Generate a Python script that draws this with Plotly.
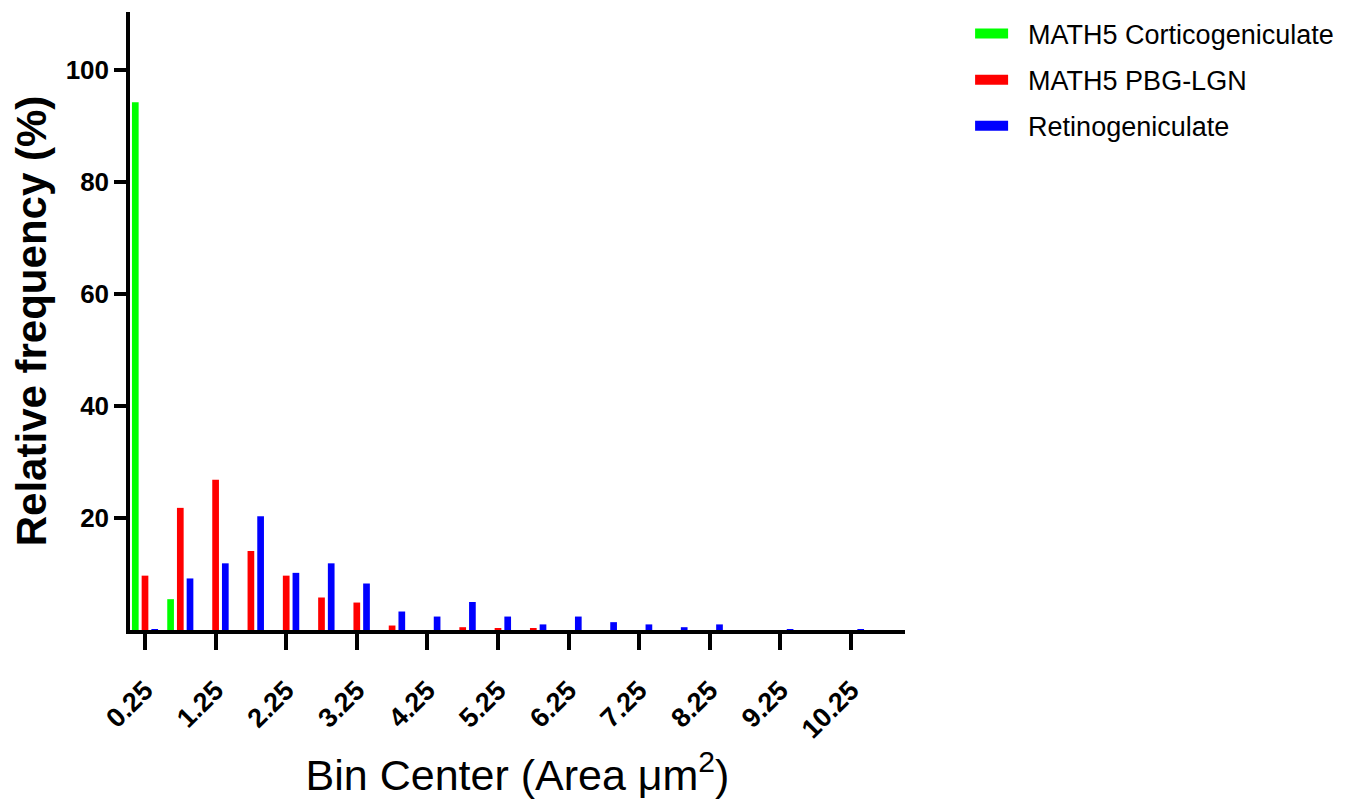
import plotly.graph_objects as go

bin_centers = [0.25, 0.75, 1.25, 1.75, 2.25, 2.75, 3.25, 3.75, 4.25, 4.75, 5.25,
               5.75, 6.25, 6.75, 7.25, 7.75, 8.25, 8.75, 9.25, 9.75, 10.25]

cortico = [94.2, 5.5, 0, 0, 0, 0, 0, 0, 0, 0, 0,
           0, 0, 0, 0, 0, 0, 0, 0, 0, 0]
pbg_lgn = [9.7, 21.8, 26.8, 14.1, 9.7, 5.8, 4.9, 0.8, 0, 0.5, 0.2,
           0.2, 0, 0, 0, 0, 0, 0, 0, 0, 0]
retino = [0.1, 9.2, 11.9, 20.3, 10.2, 11.9, 8.3, 3.3, 2.4, 5.0, 2.4,
          1.0, 2.4, 1.4, 1.0, 0.5, 1.0, 0, 0.1, 0, 0.1]

series_names = ["MATH5 Corticogeniculate", "MATH5 PBG-LGN", "Retinogeniculate"]
series_colors = ["#00FF00", "#FF0000", "#0000FF"]

x_tick_labels = ["0.25", "1.25", "2.25", "3.25", "4.25", "5.25",
                 "6.25", "7.25", "8.25", "9.25", "10.25"]
y_tick_vals = [20, 40, 60, 80, 100]

FONT = "Liberation Sans, Arial, sans-serif"

fig = go.Figure()
for name, vals, col in zip(series_names, [cortico, pbg_lgn, retino], series_colors):
    fig.add_trace(go.Bar(
        x=bin_centers, y=vals, name=name, legendgroup=name, showlegend=False,
        marker=dict(color=col, line=dict(width=0)),
    ))
# legend swatches (wide rectangles like the reference)
for name, col in zip(series_names, series_colors):
    fig.add_trace(go.Scatter(
        x=[None], y=[None], mode="lines", name="\u00a0\u00a0" + name, legendgroup=name,
        line=dict(color=col, width=18), hoverinfo="skip",
    ))

# the page body has an 8px margin, so the figure is sized/offset to compensate
fig.update_layout(
    width=1353, height=793,
    margin=dict(l=122, r=456, t=2, b=171),
    paper_bgcolor="white", plot_bgcolor="white",
    barmode="group", bargap=0.175, bargroupgap=0.31,
    font=dict(family=FONT, color="black"),
    showlegend=True,
    legend=dict(
        x=1.084, y=1.004, xanchor="left", yanchor="top",
        font=dict(size=27, family=FONT, color="black"),
        tracegroupgap=8, itemwidth=33,
        bgcolor="rgba(0,0,0,0)",
    ),
)

fig.update_xaxes(
    range=[0.0375, 11.015],
    tickmode="array",
    tickvals=[float(t) for t in x_tick_labels],
    ticktext=x_tick_labels,
    tickangle=-45,
    tickfont=dict(size=27, family=FONT, color="black", weight="bold"),
    ticks="outside", ticklen=16, tickwidth=3.5, tickcolor="black",
    ticklabelstandoff=14,
    showline=True, linewidth=3.5, linecolor="black",
    showgrid=False, zeroline=False,
    title=dict(text="Bin Center (Area \u03bcm<sup>2</sup>)",
               font=dict(size=43, family=FONT, color="black"), standoff=18),
)

fig.update_yaxes(
    range=[0, 110.3],
    tickmode="array", tickvals=y_tick_vals,
    ticktext=[str(v) for v in y_tick_vals],
    tickfont=dict(size=26, family=FONT, color="black", weight="bold"),
    ticks="outside", ticklen=12, tickwidth=3.5, tickcolor="black",
    showline=True, linewidth=3.5, linecolor="black",
    showgrid=False, zeroline=False,
    title=dict(text="Relative frequency (%)",
               font=dict(size=42, family=FONT, color="black", weight="bold"),
               standoff=19),
)

fig.write_html("out.html")
